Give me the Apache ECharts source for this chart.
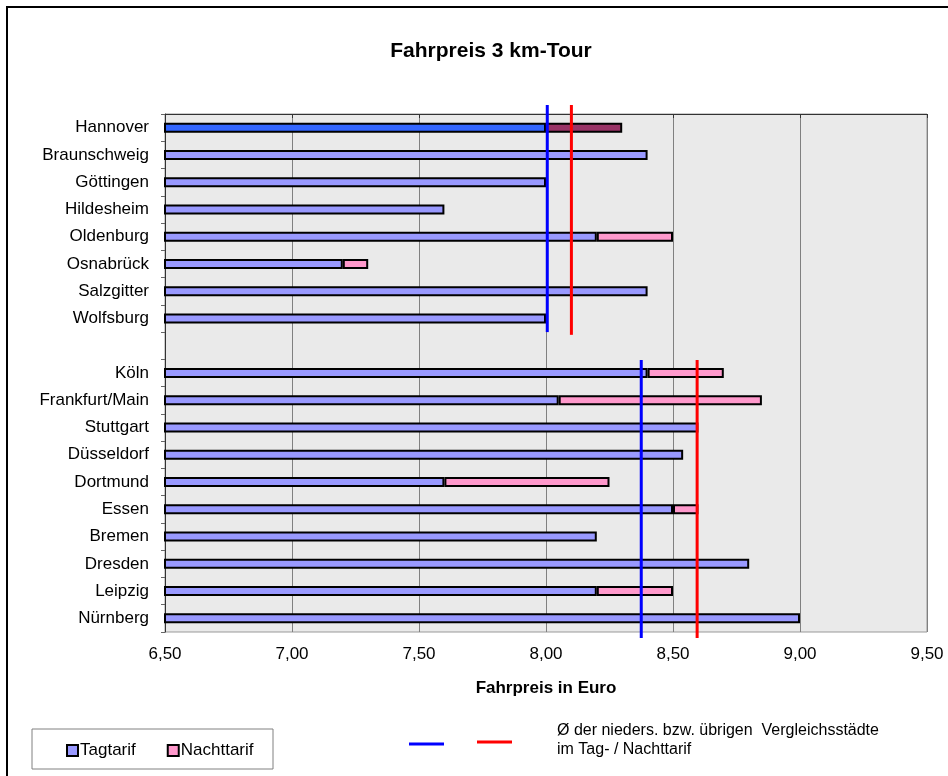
<!DOCTYPE html>
<html>
<head>
<meta charset="utf-8">
<script src="https://cdn.jsdelivr.net/npm/echarts@6/dist/echarts.min.js"></script>
<style>
html,body{margin:0;padding:0;background:#fff;}
#chart{width:948px;height:776px;}
</style>
</head>
<body>
<div id="chart"></div>
<script>
// ---- data ----
const categories = ['Hannover','Braunschweig','Göttingen','Hildesheim','Oldenburg','Osnabrück','Salzgitter','Wolfsburg','',
  'Köln','Frankfurt/Main','Stuttgart','Düsseldorf','Dortmund','Essen','Bremen','Dresden','Leipzig','Nürnberg'];
const tagtarif = [8.00,8.40,8.00,7.60,8.20,7.20,8.40,8.00,null,
  8.40,8.05,8.60,8.54,7.60,8.50,8.20,8.80,8.20,9.00];
const nachttarif = [8.30,null,null,null,8.50,7.30,null,null,null,
  8.70,8.85,null,null,8.25,8.60,null,null,8.50,null];
const avgNiedersTag = 8.005;
const avgNiedersNacht = 8.10;
const avgUebrigeTag = 8.375;
const avgUebrigeNacht = 8.595;
const xTicks = ['6,50','7,00','7,50','8,00','8,50','9,00','9,50'];

// ---- build ----
const dayData = tagtarif.map((v,i)=> {
  if (v === null) return '-';
  return i === 0 ? {value:v, itemStyle:{color:'#3366FF'}} : v;
});
const nightData = nachttarif.map((v,i)=> {
  if (v === null) return '-';
  const diff = +(v - tagtarif[i]).toFixed(3);
  return i === 0 ? {value:diff, itemStyle:{color:'#993366'}} : diff;
});

// vertical spans (in category-row units) for the average lines
const spanNieders = [-0.33, 8.0];
const spanNiedersRed = [-0.33, 8.1];
const spanUebrige = [9.02, 19.22];

const chart = echarts.init(document.getElementById('chart'), null, {renderer:'canvas'});
const FONT = 'Liberation Sans, Arial, sans-serif';
chart.setOption({
  animation:false,
  backgroundColor:'#fff',
  textStyle:{fontFamily:FONT},
  title:{
    text:'Fahrpreis 3 km-Tour',
    left:486, top:36, textAlign:'center',
    textStyle:{fontFamily:FONT, fontSize:21, fontWeight:'bold', color:'#000'}
  },
  legend:{
    data:['Tagtarif','Nachttarif'],
    left:61, top:737,
    itemWidth:11, itemHeight:11, itemGap:31,
    icon:'rect',
    itemStyle:{borderColor:'#000', borderWidth:2},
    textStyle:{fontFamily:FONT, fontSize:17, color:'#000', padding:[0,0,0,-3]}
  },
  grid:{left:165, top:114, width:762, height:518, show:true,
    backgroundColor:'#EAEAEA', borderColor:'#999', borderWidth:1},
  xAxis:{
    type:'value', min:6.5, max:9.5, interval:0.5,
    axisLine:{show:true, lineStyle:{color:'#333', width:1}},
    axisTick:{show:true, length:4, lineStyle:{color:'#333'}},
    axisLabel:{margin:14, fontFamily:FONT, fontSize:17, color:'#000',
      formatter:(v)=> xTicks[Math.round((v-6.5)/0.5)]},
    splitLine:{show:true, lineStyle:{color:'#808080', width:1}},
    name:'Fahrpreis in Euro', nameLocation:'middle', nameGap:48,
    nameTextStyle:{fontFamily:FONT, fontSize:17, fontWeight:'bold', color:'#000'}
  },
  yAxis:[{
    type:'category', data:categories, inverse:true,
    axisLine:{show:true, lineStyle:{color:'#333', width:1}},
    axisTick:{show:true, length:4, lineStyle:{color:'#666'}},
    axisLabel:{margin:16, fontFamily:FONT, fontSize:17, color:'#000'},
    splitLine:{show:false}
  },{
    type:'value', min:0, max:19, inverse:true, show:false,
    splitLine:{show:false}
  }],
  series:[
    {name:'Tagtarif', type:'bar', stack:'t', data:dayData, barWidth:10,
      itemStyle:{color:'#9999FF', borderColor:'#000', borderWidth:2}},
    {name:'Nachttarif', type:'bar', stack:'t', data:nightData, barWidth:10,
      itemStyle:{color:'#FF99CC', borderColor:'#000', borderWidth:2}},
    {type:'line', yAxisIndex:1, clip:false, symbol:'none', silent:true, z:5,
      data:[[avgNiedersTag, spanNieders[0]],[avgNiedersTag, spanNieders[1]]],
      lineStyle:{color:'#0000FF', width:3}},
    {type:'line', yAxisIndex:1, clip:false, symbol:'none', silent:true, z:5,
      data:[[avgNiedersNacht, spanNiedersRed[0]],[avgNiedersNacht, spanNiedersRed[1]]],
      lineStyle:{color:'#FF0000', width:3}},
    {type:'line', yAxisIndex:1, clip:false, symbol:'none', silent:true, z:5,
      data:[[avgUebrigeTag, spanUebrige[0]],[avgUebrigeTag, spanUebrige[1]]],
      lineStyle:{color:'#0000FF', width:3}},
    {type:'line', yAxisIndex:1, clip:false, symbol:'none', silent:true, z:5,
      data:[[avgUebrigeNacht, spanUebrige[0]],[avgUebrigeNacht, spanUebrige[1]]],
      lineStyle:{color:'#FF0000', width:3}}
  ],
  graphic:[
    {type:'rect', shape:{x:7, y:7, width:980, height:820}, style:{fill:'none', stroke:'#000', lineWidth:2}, silent:true},
    {type:'rect', shape:{x:32, y:729, width:241, height:40}, style:{fill:'none', stroke:'#808080', lineWidth:1}, silent:true, z:-1},
    {type:'line', shape:{x1:409, y1:744, x2:444, y2:744}, style:{stroke:'#0000FF', lineWidth:3}},
    {type:'line', shape:{x1:477, y1:742, x2:512, y2:742}, style:{stroke:'#FF0000', lineWidth:3}},
    {type:'text', left:557, top:721, style:{text:'Ø der nieders. bzw. übrigen  Vergleichsstädte\nim Tag- / Nachttarif',
      font:'16px Liberation Sans, Arial, sans-serif', fill:'#000', lineHeight:19}}
  ]
});
</script>
</body>
</html>
